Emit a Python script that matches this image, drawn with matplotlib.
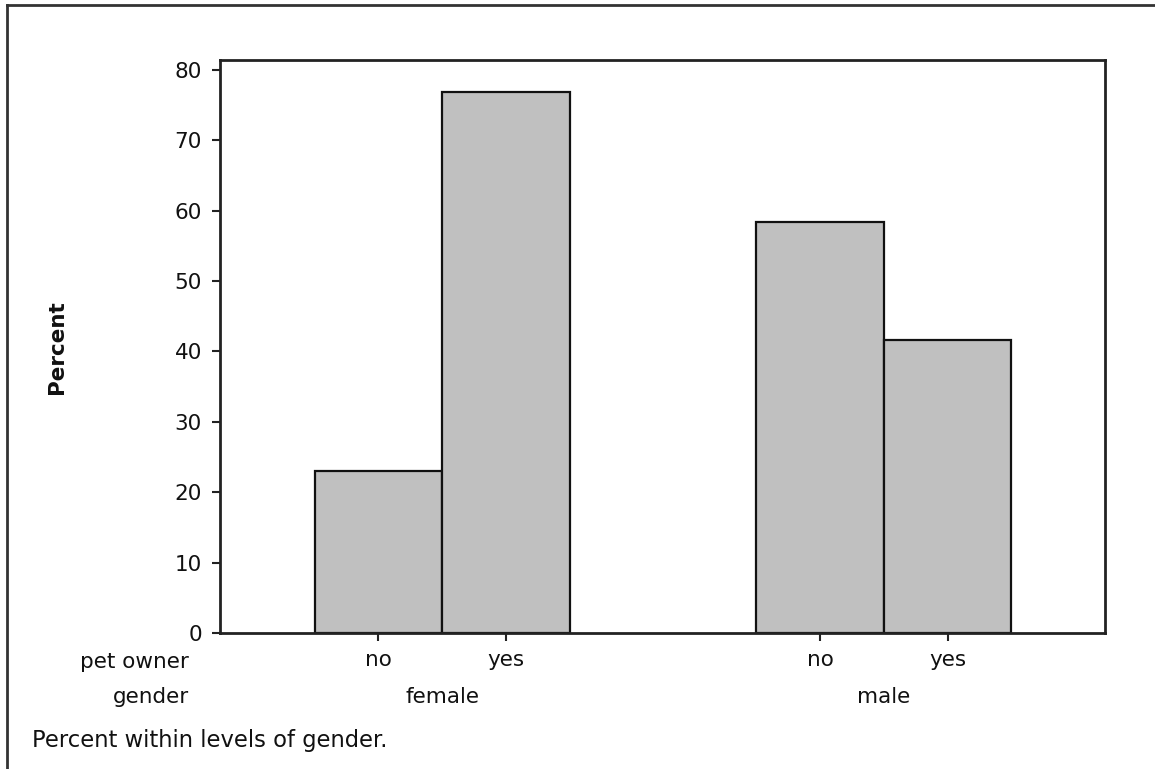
import matplotlib
matplotlib.use("Agg")
import matplotlib.pyplot as plt
import matplotlib.transforms as mtransforms
from matplotlib.lines import Line2D

# ---- data ----
genders = ["female", "male"]
pet_owner = ["no", "yes"]
female_pct = [23.08, 76.92]
male_pct = [58.33, 41.67]
yticks = [0, 10, 20, 30, 40, 50, 60, 70, 80]
footnote = "Percent within levels of gender."

W, H = 1155, 769
plt.rcParams['font.family'] = ['DejaVu Sans']
fig = plt.figure(figsize=(W / 100, H / 100), dpi=100)
FS = 15.5


def fx(px):
    return px / W


def fy(py):
    return 1 - py / H


ax = fig.add_axes([fx(220), fy(633), fx(1105) - fx(220), fy(60) - fy(633)])

group_centers = [0.5, 3.963]
bar_w = 1.0
xs, hs, labels = [], [], []
for gc, vals in zip(group_centers, [female_pct, male_pct]):
    for i, (lab, v) in enumerate(zip(pet_owner, vals)):
        xs.append(gc - 0.5 + i)
        hs.append(v)
        labels.append(lab)

ax.bar(xs, hs, width=bar_w, color="#c0c0c0", edgecolor="#111111", linewidth=1.6, zorder=2)

ax.set_xlim(-1.243, 5.698)
ax.set_ylim(0, 81.42)
ax.set_yticks(yticks)
ax.set_yticklabels([str(t) for t in yticks])
ax.set_xticks(xs)
ax.set_xticklabels(labels)

for sp in ax.spines.values():
    sp.set_linewidth(2)
    sp.set_color("#222222")

ax.tick_params(axis='both', direction='out', length=6, width=1.5, color="#222222",
               labelsize=FS, labelcolor="#111111")
ax.tick_params(axis='y', pad=7)
ax.tick_params(axis='x', pad=6)

fig.text(fx(57), fy(347), "Percent", rotation=90, ha='center', va='center',
         fontsize=FS, fontweight='bold', color="#111111")

# group labels
trans = mtransforms.blended_transform_factory(ax.transData, fig.transFigure)
for gc, g in zip(group_centers, genders):
    ax.text(gc, fy(697), g, transform=trans, ha='center', va='center', fontsize=FS, color="#111111")

fig.text(fx(189), fy(662), "pet owner", ha='right', va='center', fontsize=FS, color="#111111")
fig.text(fx(189), fy(697), "gender", ha='right', va='center', fontsize=FS, color="#111111")
fig.text(fx(32), fy(741), footnote, ha='left', va='center', fontsize=16.3, color="#111111")

# outer frame (left and top visible)
fig.add_artist(Line2D([fx(7), fx(7)], [fy(5), fy(H + 5)], transform=fig.transFigure,
                      color="#333333", linewidth=2))
fig.add_artist(Line2D([fx(7), fx(W + 5)], [fy(5), fy(5)], transform=fig.transFigure,
                      color="#333333", linewidth=2))

fig.savefig("out.png", dpi=100)
